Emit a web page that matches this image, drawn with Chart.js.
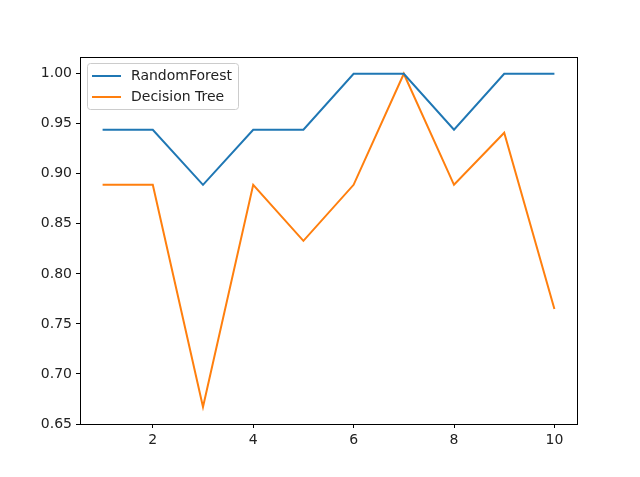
<!DOCTYPE html>
<html>
<head>
<meta charset="utf-8">
<script src="https://cdn.jsdelivr.net/npm/chart.js@4"></script>
<style>
    html, body { margin: 0; padding: 0; background: #fff; }
    #wrap { width: 640px; height: 477px; }
</style>
</head>
<body>
<div id="wrap"><canvas id="chart" width="640" height="477"></canvas></div>
<script>
const folds = [1, 2, 3, 4, 5, 6, 7, 8, 9, 10];
const randomForest = [0.944, 0.944, 0.889, 0.944, 0.944, 1.0, 1.0, 0.944, 1.0, 1.0];
const decisionTree = [0.889, 0.889, 0.667, 0.889, 0.833, 0.889, 1.0, 0.889, 0.941, 0.765];
const seriesNames = ["RandomForest", "Decision Tree"];
const seriesColors = ["#1f77b4", "#ff7f0e"];
const xTicks = [2, 4, 6, 8, 10];

const FONT = "DejaVu Sans";

// frame around the plot area, like the matplotlib spines
const framePlugin = {
    id: "frame",
    afterDraw(chart) {
        const { ctx, chartArea: a } = chart;
        ctx.save();
        ctx.strokeStyle = "#000";
        ctx.lineWidth = 1;
        ctx.strokeRect(Math.round(a.left) + 0.5, Math.round(a.top) + 0.5,
            Math.round(a.right - a.left), Math.round(a.bottom - a.top));
        ctx.restore();
    },
};

// legend box drawn inside the plot, upper left
const innerLegend = {
    id: "innerLegend",
    afterDraw(chart) {
        const { ctx, chartArea: a } = chart;
        const x = a.left + 7.5, y = a.top + 6.5, w = 151, h = 46, r = 3;
        ctx.save();
        ctx.beginPath();
        ctx.roundRect(x, y, w, h, r);
        ctx.fillStyle = "rgba(255,255,255,0.8)";
        ctx.fill();
        ctx.strokeStyle = "#cccccc";
        ctx.lineWidth = 1;
        ctx.stroke();
        ctx.font = `14px '${FONT}'`;
        ctx.textBaseline = "middle";
        seriesNames.forEach((name, i) => {
            const ly = a.top + 19 + i * 21;
            ctx.strokeStyle = seriesColors[i];
            ctx.lineWidth = 2;
            ctx.beginPath();
            ctx.moveTo(a.left + 12, ly);
            ctx.lineTo(a.left + 41, ly);
            ctx.stroke();
            ctx.fillStyle = "#222";
            ctx.fillText(name, a.left + 51, ly);
        });
        ctx.restore();
    },
};

const datasets = [randomForest, decisionTree].map((values, i) => ({
    label: seriesNames[i],
    data: values.map((v, j) => ({ x: folds[j], y: v })),
    borderColor: seriesColors[i],
    backgroundColor: seriesColors[i],
    borderWidth: 2,
    pointRadius: 0,
    tension: 0,
}));

new Chart(document.getElementById("chart"), {
    type: "line",
    data: { datasets },
    options: {
        responsive: false,
        animation: false,
        layout: { padding: { top: 57, right: 63, left: 0, bottom: 0 } },
        plugins: {
            legend: { display: false },
            tooltip: { enabled: false },
        },
        scales: {
            x: {
                type: "linear",
                min: 0.55,
                max: 10.45,
                afterFit: (scale) => { scale.height = 53; },
                afterBuildTicks: (scale) => {
                    scale.ticks = xTicks.map((v) => ({ value: v }));
                },
                grid: { drawOnChartArea: false, drawTicks: true, tickLength: 4, tickColor: "#000" },
                border: { display: false },
                ticks: {
                    color: "#222",
                    padding: 4,
                    maxRotation: 0,
                    font: { family: FONT, size: 14 },
                },
            },
            y: {
                min: 0.65,
                max: 1.0167,
                afterFit: (scale) => { scale.width = 80; },
                afterBuildTicks: (scale) => {
                    const t = [];
                    for (let k = 0; k <= 7; k++) t.push({ value: 0.65 + k * 0.05 });
                    scale.ticks = t;
                },
                grid: { drawOnChartArea: false, drawTicks: true, tickLength: 4, tickColor: "#000" },
                border: { display: false },
                ticks: {
                    color: "#222",
                    padding: 4,
                    font: { family: FONT, size: 14 },
                    callback: (v) => v.toFixed(2),
                },
            },
        },
    },
    plugins: [framePlugin, innerLegend],
});
</script>
</body>
</html>
